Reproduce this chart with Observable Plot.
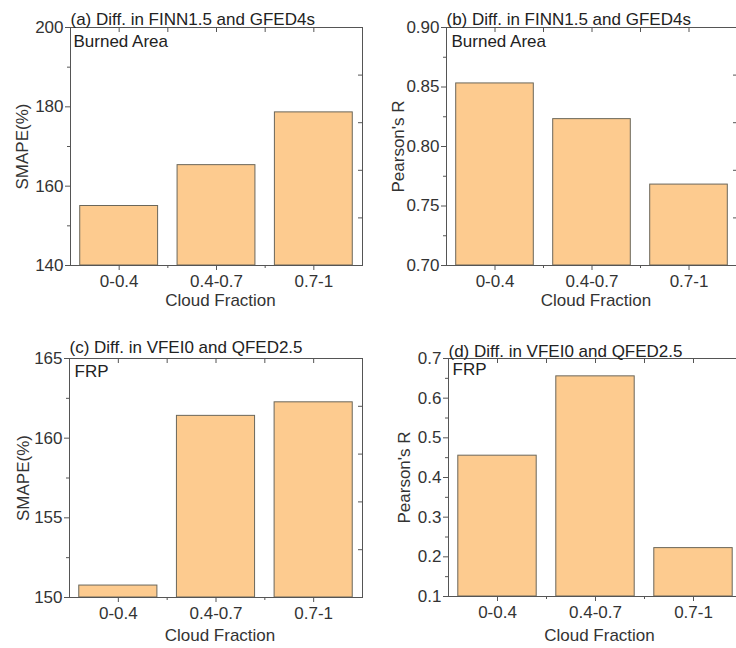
<!DOCTYPE html>
<html><head><meta charset="utf-8">
<script src="https://cdn.jsdelivr.net/npm/d3@7"></script>
<script src="https://cdn.jsdelivr.net/npm/@observablehq/plot@0.6"></script>
<style>
body{margin:0;background:#fff;}
#wrap{position:relative;width:736px;height:648px;overflow:hidden;background:#fff;}
#wrap > svg{position:absolute;}
</style></head><body><div id="wrap"></div>
<script>
// ---- data ----
const categories = ["0-0.4", "0.4-0.7", "0.7-1"];
const smapeBurned = [155.0, 165.3, 178.6];
const pearsonBurned = [0.853, 0.823, 0.768];
const smapeFRP = [150.75, 161.4, 162.25];
const pearsonFRP = [0.455, 0.655, 0.222];

const titles = ["(a) Diff. in FINN1.5 and GFED4s", "(b) Diff. in FINN1.5 and GFED4s",
                "(c) Diff. in VFEI0 and QFED2.5", "(d) Diff. in VFEI0 and QFED2.5"];
const insetLabels = ["Burned Area", "Burned Area", "FRP", "FRP"];
const yLabels = ["SMAPE(%)", "Pearson's R", "SMAPE(%)", "Pearson's R"];
const xLabel = "Cloud Fraction";

const yTicksA = [140, 160, 180, 200], yMinorA = [150, 170, 190], yRightA = [152, 164, 176, 188];
const yTicksB = [0.70, 0.75, 0.80, 0.85, 0.90], yMinorB = [0.725, 0.775, 0.825, 0.875], yRightB = [0.74, 0.78, 0.82, 0.86];
const yTicksC = [150, 155, 160, 165], yMinorC = [152.5, 157.5, 162.5], yRightC = [153, 156, 159, 162];
const yTicksD = [0.1, 0.2, 0.3, 0.4, 0.5, 0.6, 0.7], yMinorD = [0.15, 0.25, 0.35, 0.45, 0.55, 0.65], yRightD = [0.22, 0.34, 0.46, 0.58];

// ---- layout ----
const panels = [
  {values: smapeBurned, domain: [140, 200], ticks: yTicksA, minor: yMinorA, right: yRightA, fmt: d3.format("d"),
   left: 0, top: 0, width: 368, height: 324, mt: 27, mb: 59, ml: 70, mr: 6, ylDx: -48, titleDy: -3, insetDx: 3, insetDy: 7.9, xlDy: 28},
  {values: pearsonBurned, domain: [0.70, 0.90], ticks: yTicksB, minor: yMinorB, right: yRightB, fmt: d3.format(".2f"),
   left: 368, top: 0, width: 376, height: 324, mt: 27, mb: 59, ml: 78, mr: 7, ylDx: -47.5, titleDy: -3, insetDx: 5, insetDy: 7.9, xlDy: 28},
  {values: smapeFRP, domain: [150, 165], ticks: yTicksC, minor: yMinorC, right: yRightC, fmt: d3.format("d"),
   left: 0, top: 324, width: 368, height: 324, mt: 34, mb: 51, ml: 69, mr: 6, ylDx: -46, titleDy: -6, insetDx: 5, insetDy: 6.9, xlDy: 31},
  {values: pearsonFRP, domain: [0.1, 0.7], ticks: yTicksD, minor: yMinorD, right: yRightD, fmt: d3.format(".1f"),
   left: 368, top: 324, width: 380, height: 324, mt: 34, mb: 52, ml: 80, mr: 6, ylDx: -43.5, titleDy: -2, insetDx: 4, insetDy: 4.9, xlDy: 32}
];

const wrap = document.getElementById("wrap");
const FONT = "'Liberation Sans', Arial, Helvetica, sans-serif";
const FS = 17;

panels.forEach((p, k) => {
  const rows = categories.map((c, i) => ({c, i, v: p.values[i]}));
  const centers = categories.map((c, i) => i + 0.5);
  const chart = Plot.plot({
    width: p.width, height: p.height,
    marginTop: p.mt, marginBottom: p.mb, marginLeft: p.ml, marginRight: p.mr,
    style: {fontFamily: FONT, fontSize: FS + "px", color: "#333", background: "transparent", overflow: "visible"},
    x: {type: "linear", domain: [0, categories.length], axis: null},
    y: {domain: p.domain, axis: null},
    marks: [
      Plot.rectY(rows, {x1: d => d.i + 0.1, x2: d => d.i + 0.9, y1: () => p.domain[0], y2: "v",
        fill: "#fdcb8f", stroke: "#6b675a", strokeWidth: 1}),
      Plot.frame({stroke: "#555", strokeWidth: 1}),
      // left axis
      Plot.axisY(p.ticks, {anchor: "left", tickSize: 5, tickPadding: 2, tickFormat: p.fmt, label: null, stroke: "#555", fill: "#333", fontSize: FS}),
      Plot.axisY(p.minor, {anchor: "left", tickSize: 3, tickFormat: () => "", label: null, stroke: "#555"}),
      // right inward ticks
      Plot.axisY(p.right, {anchor: "right", tickSize: -5, tickFormat: () => "", label: null, stroke: "#555"}),
      // bottom axis
      Plot.axisX(centers, {anchor: "bottom", tickSize: 5, tickPadding: 4, tickFormat: (d, i) => categories[i], label: null, stroke: "#555", fill: "#333", fontSize: FS}),
      Plot.axisX([1, 2], {anchor: "bottom", tickSize: 3, tickFormat: () => "", label: null, stroke: "#555"}),
      // top inward ticks
      Plot.axisX([0.5, 1, 1.5, 2, 2.5], {anchor: "top", tickSize: -4, tickFormat: () => "", label: null, stroke: "#555"}),
      // texts
      Plot.text([yLabels[k]], {frameAnchor: "left", dx: p.ylDx, rotate: -90, textAnchor: "middle", lineAnchor: "middle", text: d => d, fill: "#333", fontSize: FS}),
      Plot.text([xLabel], {frameAnchor: "bottom", dx: 4, dy: p.xlDy, lineAnchor: "top", text: d => d, fill: "#333", fontSize: FS}),
      Plot.text([titles[k]], {frameAnchor: "top-left", dy: p.titleDy, lineAnchor: "bottom", textAnchor: "start", text: d => d, fill: "#222", fontSize: FS}),
      Plot.text([insetLabels[k]], {frameAnchor: "top-left", dx: p.insetDx, dy: p.insetDy, lineAnchor: "top", textAnchor: "start", text: d => d, fill: "#222", fontSize: FS})
    ]
  });
  chart.style.left = p.left + "px";
  chart.style.top = p.top + "px";
  wrap.appendChild(chart);
});
</script>
</body></html>
